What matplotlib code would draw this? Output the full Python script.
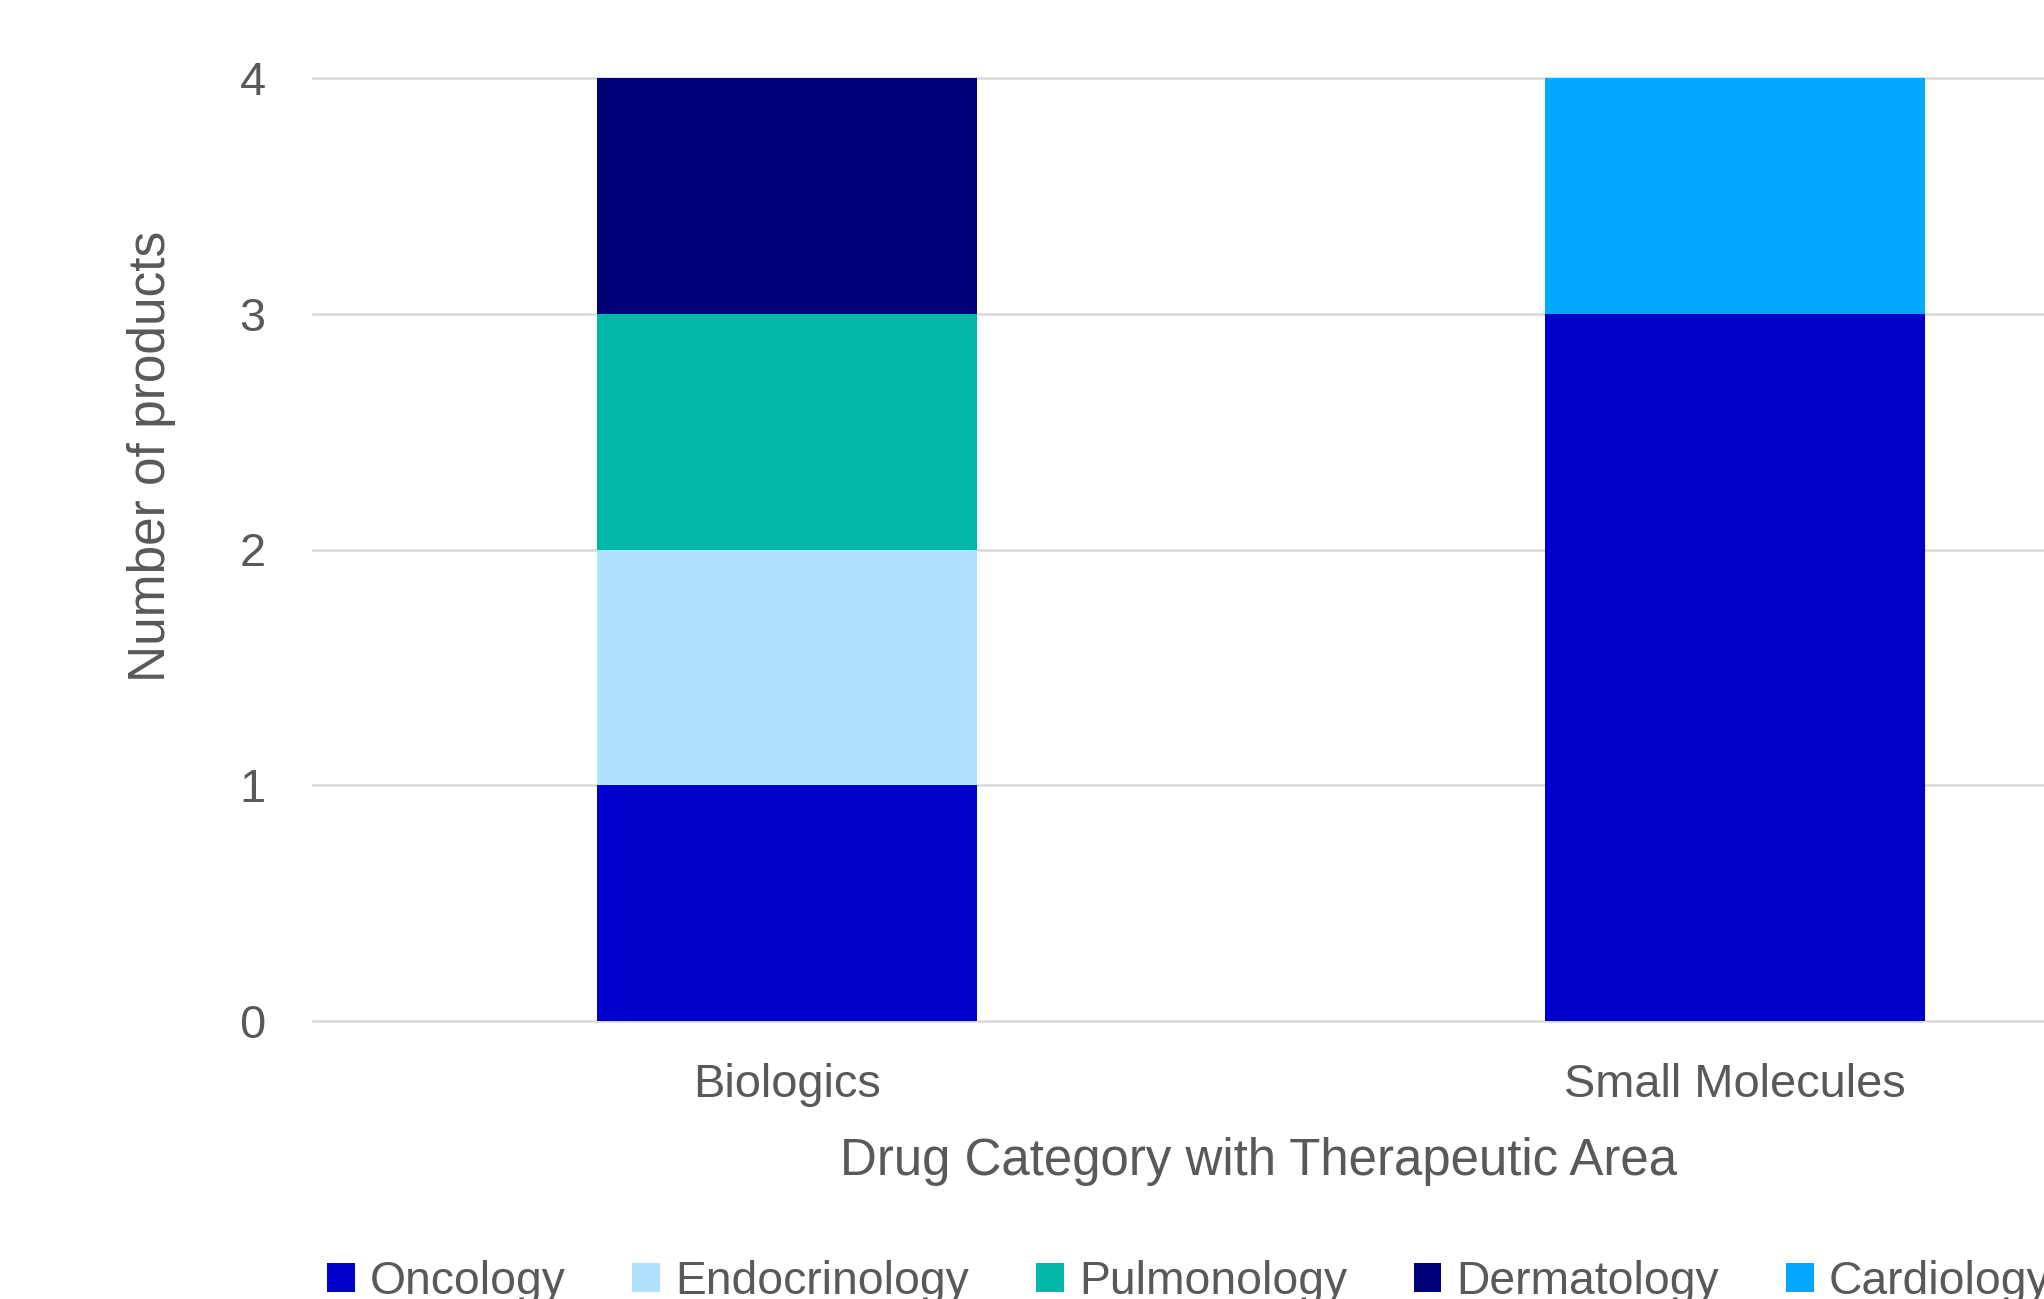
import matplotlib
matplotlib.use("Agg")
import matplotlib.pyplot as plt
from matplotlib.patches import Patch
import numpy as np

plt.rcParams['font.family'] = ['Liberation Sans', 'DejaVu Sans']

categories = ["Biologics", "Small Molecules"]
areas = ["Oncology", "Endocrinology", "Pulmonology", "Dermatology", "Cardiology"]
oncology = [1, 3]
endocrinology = [1, 0]
pulmonology = [1, 0]
dermatology = [1, 0]
cardiology = [0, 1]
y_ticks = [0, 1, 2, 3, 4]

series = [oncology, endocrinology, pulmonology, dermatology, cardiology]
colors = ["#0000CC", "#AEE2FF", "#00B7A8", "#000078", "#03A9FF"]
text_color = "#595959"
grid_color = "#D9D9D9"

W, H = 2044, 1299
fig = plt.figure(figsize=(W / 100, H / 100), dpi=100)

# plot area (pixel geometry converted to figure fractions)
left_px, right_px, top_px, bottom_px = 313, 313 + 2 * 948, 78, 1021
ax = fig.add_axes([left_px / W, 1 - bottom_px / H,
                   (right_px - left_px) / W, (bottom_px - top_px) / H])

x = np.arange(len(categories))
bottom = np.zeros(len(categories))
for vals, col, name in zip(series, colors, areas):
    ax.bar(x, vals, width=0.4, bottom=bottom, color=col, label=name,
           zorder=3, linewidth=0)
    bottom += np.array(vals)

ax.set_xlim(-0.5, 1.5)
ax.set_ylim(0, 4)
ax.set_yticks(y_ticks)
ax.set_xticks(x)
ax.set_xticklabels(categories)
ax.tick_params(axis='both', length=0, labelsize=33.8, labelcolor=text_color)
ax.tick_params(axis='y', pad=34)
ax.tick_params(axis='x', pad=30)

ax.grid(axis='y', color=grid_color, linewidth=1.8, zorder=0)
for gl in ax.get_ygridlines():
    gl.set_clip_on(False)
for s in ax.spines.values():
    s.set_visible(False)

fig.text(1259 / W, 1 - 1175 / H, "Drug Category with Therapeutic Area",
         ha='center', va='baseline', fontsize=36.7, color=text_color)
fig.text(151 / W, 1 - 456 / H, "Number of products", rotation=90,
         ha='center', va='center', fontsize=37, color=text_color)

handles = [Patch(facecolor=c, edgecolor='none', label=n) for c, n in zip(colors, areas)]
fig.legend(handles=handles, loc='center left', bbox_to_anchor=(327 / W, 1 - 1282 / H),
           ncol=5, frameon=False, fontsize=33.3, labelcolor=text_color,
           handlelength=0.6, handleheight=0.6, handletextpad=0.33,
           columnspacing=1.44, borderpad=0, borderaxespad=0)

fig.savefig("out.png", dpi=100, facecolor="white")
